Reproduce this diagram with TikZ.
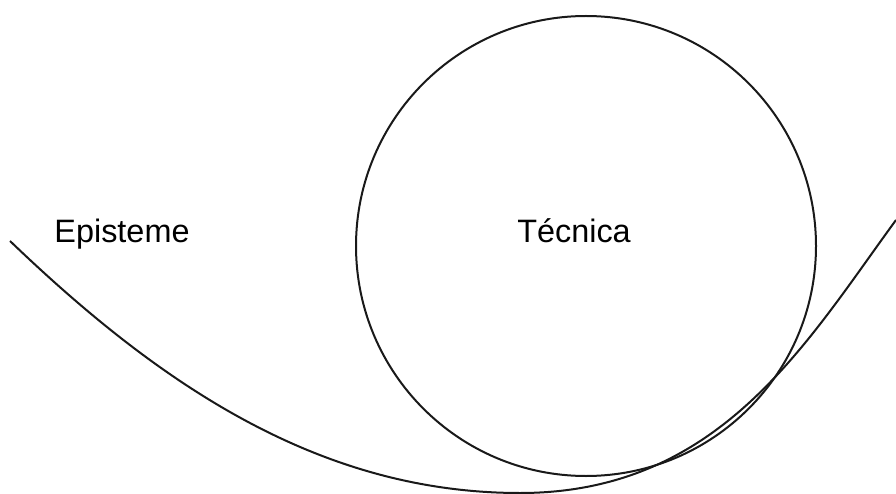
\documentclass[tikz,border=0pt]{standalone}
\usepackage{fontspec}
\setmainfont{Liberation Sans}
\begin{document}
\begin{tikzpicture}[x=1pt,y=-1pt,
  linea/.style={line width=2pt,black!90},
  rotulo/.style={font=\fontsize{32.4}{38}\selectfont,anchor=base,inner sep=0pt}]
  \useasboundingbox (0,0) rectangle (896,494);
  \node[circle,linea,draw,minimum size=460pt,inner sep=0pt] (circulo) at (586,246) {};
  \node[rotulo] (episteme) at (122,243) {Episteme};
  \node[rotulo] (tecnica) at (574,243) {Técnica};
  \coordinate (inicio) at (10,241);
  \coordinate (fondo) at (520,493);
  \coordinate (fin) at (896,220);
  \draw[linea] (inicio) .. controls (160,385) and (320,493) .. (fondo)
    .. controls (720,493) and (806,343) .. (fin);
\end{tikzpicture}
\end{document}
